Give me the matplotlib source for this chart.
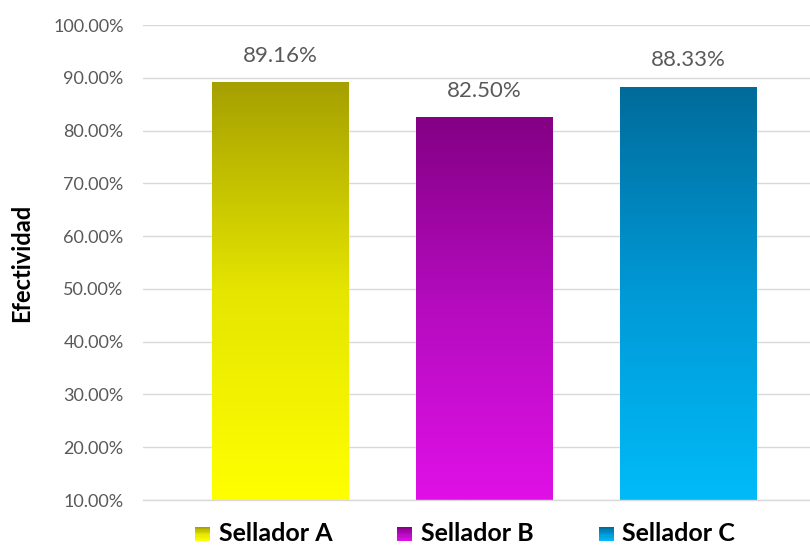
import numpy as np
import matplotlib
matplotlib.use("Agg")
import matplotlib.pyplot as plt
from matplotlib.colors import LinearSegmentedColormap
from matplotlib.patches import Rectangle
from matplotlib.legend_handler import HandlerBase
from matplotlib.ticker import FuncFormatter

# datos
categorias = ["Sellador A", "Sellador B", "Sellador C"]
efectividad = [89.16, 82.50, 88.33]
etiquetas = ["89.16%", "82.50%", "88.33%"]

# colores del degradado (arriba, medio, abajo)
degradados = [
    ["#A5A000", "#E5E500", "#FFFF00"],
    ["#840084", "#B50CBF", "#E010E6"],
    ["#006B9A", "#0099D6", "#00BBF8"],
]

plt.rcParams["font.family"] = ["Lato", "DejaVu Sans"]

fig = plt.figure(figsize=(8.1, 5.46), dpi=100)
ax = fig.add_axes([0.1765, 0.0842, 0.8235, 0.8700])

y_min = 10
ancho = 0.667
x = np.arange(len(categorias))

for i, (val, cols) in enumerate(zip(efectividad, degradados)):
    cmap = LinearSegmentedColormap.from_list("g%d" % i, cols[::-1])
    grad = np.linspace(0, 1, 256).reshape(-1, 1)
    left = x[i] - ancho / 2
    im = ax.imshow(grad, cmap=cmap, origin="lower", aspect="auto",
                   extent=[left, left + ancho, y_min, val], zorder=2)
    rect = Rectangle((left, y_min), ancho, val - y_min, facecolor="none",
                     edgecolor="none", transform=ax.transData)
    ax.add_patch(rect)
    im.set_clip_path(rect)
    ax.annotate(etiquetas[i], (x[i], val), xytext=(0, 19), textcoords="offset points",
                ha="center", va="center", fontsize=16, color="#595959")

ax.set_xlim(-0.672, 2.596)
ax.set_ylim(y_min, 100)
ax.set_yticks(np.arange(10, 101, 10))
ax.yaxis.set_major_formatter(FuncFormatter(lambda v, p: "%.2f%%" % v))
ax.tick_params(axis="y", length=0, pad=14, labelsize=13, labelcolor="#595959")
ax.set_xticks([])
ax.grid(axis="y", color="#D9D9D9", linewidth=1, zorder=0)
ax.set_axisbelow(True)
for s in ["top", "right", "left"]:
    ax.spines[s].set_visible(False)
ax.spines["bottom"].set_color("#D9D9D9")
ax.spines["bottom"].set_linewidth(1)

ax.set_ylabel("Efectividad", fontsize=17, fontweight="bold", color="black",
              va="center")
ax.yaxis.set_label_coords(-0.182, 0.5)


class HandlerDegradado(HandlerBase):
    def __init__(self, cols):
        super().__init__()
        self.cols = cols

    def create_artists(self, legend, orig_handle, xdescent, ydescent, width, height, fontsize, trans):
        artists = []
        n = 12
        cmap = LinearSegmentedColormap.from_list("h", self.cols[::-1])
        lado = height * 0.85
        x0 = width - lado
        for k in range(n):
            r = Rectangle((x0 - xdescent, -ydescent + k * lado / n), lado, lado / n,
                          facecolor=cmap(k / (n - 1)), edgecolor="none", transform=trans)
            artists.append(r)
        return artists


handles = [Rectangle((0, 0), 1, 1) for _ in categorias]
hmap = {h: HandlerDegradado(c) for h, c in zip(handles, degradados)}
leg = fig.legend(handles, categorias, handler_map=hmap, loc="center",
                 bbox_to_anchor=(0.574, 0.022), ncol=3, frameon=False,
                 prop={"weight": "bold", "size": 18}, handlelength=0.6,
                 handletextpad=0.35, columnspacing=2.6, borderpad=0)

fig.savefig("out.png", dpi=100)
